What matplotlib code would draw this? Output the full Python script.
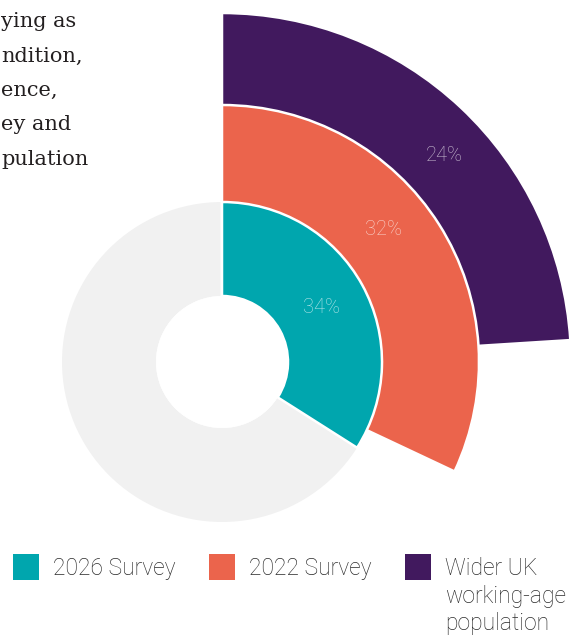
import matplotlib
matplotlib.use("Agg")
import matplotlib.pyplot as plt
from matplotlib.patches import Wedge, Rectangle
import numpy as np

# shares shown in each ring, innermost first
series = ["2026 Survey", "2022 Survey", "Wider UK\nworking-age\npopulation"]
shares = [34, 32, 24]
colors = ["#00A6AE", "#EB644C", "#41195E"]
outer_radii = [160, 257, 349]

# visible end of the intro paragraph beside the chart
intro_lines = ["ying as", "ndition,", "ence,", "ey and", "pulation"]

W, H = 579, 637
CX, CY = 222, H - 362
R_IN = 66

fig = plt.figure(figsize=(W / 100, H / 100), dpi=100)
ax = fig.add_axes([0, 0, 1, 1])
ax.set_xlim(0, W)
ax.set_ylim(0, H)
ax.set_aspect("equal")
ax.axis("off")

# grey background ring
ax.add_patch(Wedge((CX, CY), 160, 0, 360, width=160 - R_IN,
                   facecolor="#F1F1F1", edgecolor="none"))

# widest ring first so the smaller ones sit on top
for share, col, r in reversed(list(zip(shares, colors, outer_radii))):
    ax.add_patch(Wedge((CX, CY), r, 90 - 360 * share / 100, 90,
                       width=r - R_IN, facecolor=col,
                       edgecolor="white", linewidth=1.8))

# value labels, placed part way round each arc
inner_radii = [R_IN, 160, 257]
label_frac = [0.5, 0.44, 0.545]
for share, r0, r1, f in zip(shares, inner_radii, outer_radii, label_frac):
    ang = np.deg2rad(90 - 360 * share / 100 * f)
    rm = (r0 + r1) / 2
    ax.text(CX + rm * np.cos(ang), CY + rm * np.sin(ang), f"{share}%",
            ha="center", va="center", fontsize=14.5, color="white",
            alpha=0.7, family="Roboto", fontweight="light")

# hole in the middle
ax.add_patch(Wedge((CX, CY), R_IN, 0, 360, facecolor="white",
                   edgecolor="none"))

for i, line in enumerate(intro_lines):
    ax.text(1, H - 27 - i * 34.5, line, ha="left", va="baseline",
            fontsize=15, color="#231F20", family="DejaVu Serif")

# legend along the bottom
leg_x = [13, 209, 405]
for x, col, name in zip(leg_x, colors, series):
    ax.add_patch(Rectangle((x, H - 580), 26, 26, facecolor=col,
                           edgecolor="none"))
    for j, part in enumerate(name.split("\n")):
        ax.text(x + 40, H - 575 - j * 27.5, part, ha="left", va="baseline",
                fontsize=16.5, color="#2A2A2A", family="Roboto",
                fontweight="light")

fig.savefig("out.png", dpi=100)
